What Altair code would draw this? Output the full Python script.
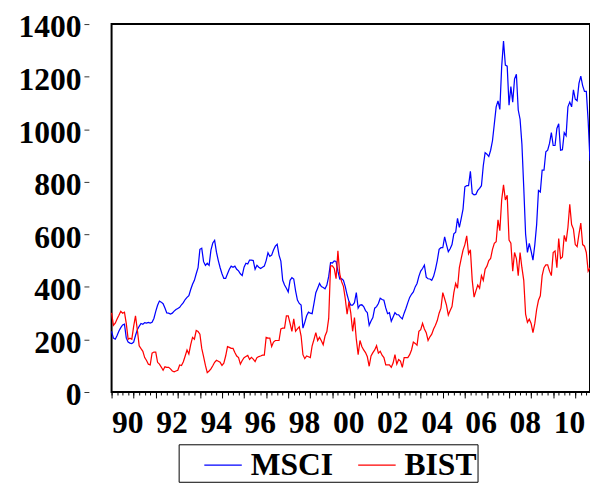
import altair as alt
import pandas as pd

start_year = 1990
series_names = ["MSCI", "BIST"]
series_colors = ["#0000ff", "#ff0000"]

msci = [
    231, 205, 201, 215, 232, 245, 255, 258, 205, 190, 186, 184,   # 1990
    190, 215, 237, 250, 261, 258, 264, 262, 265, 262, 265, 280,   # 1991
    307, 330, 346, 342, 336, 320, 301, 300, 297, 300, 308, 314,   # 1992
    318, 322, 332, 340, 352, 360, 367, 390, 410, 425, 450, 473,   # 1993
    543, 547, 496, 482, 490, 482, 540, 567, 577, 532, 500, 473,   # 1994
    450, 432, 432, 450, 467, 479, 475, 479, 467, 461, 450, 443,   # 1995
    475, 490, 487, 502, 502, 500, 467, 482, 475, 470, 475, 479,   # 1996
    500, 530, 516, 521, 540, 555, 562, 521, 498, 425, 407, 395,   # 1997
    381, 425, 435, 430, 385, 350, 337, 331, 243, 265, 290, 304,   # 1998
    300, 298, 337, 378, 395, 413, 401, 398, 393, 407, 440, 492,   # 1999
    491, 499, 497, 460, 430, 431, 425, 401, 370, 345, 331, 331,   # 2000
    340, 378, 319, 331, 332, 325, 310, 302, 254, 270, 283, 319,   # 2001
    325, 337, 357, 352, 349, 320, 298, 302, 269, 285, 302, 294,   # 2002
    294, 285, 278, 300, 319, 340, 360, 372, 381, 400, 413, 440,   # 2003
    460, 470, 483, 437, 431, 430, 425, 440, 467, 500, 543, 549,   # 2004
    549, 590, 561, 534, 545, 561, 602, 608, 661, 626, 660, 696,   # 2005
    781, 785, 785, 840, 756, 750, 752, 767, 775, 785, 861, 911,   # 2006
    905, 896, 920, 956, 1020, 1085, 1108, 1075, 1238, 1335, 1244, 1240,  # 2007
    1091, 1162, 1103, 1191, 1209, 1073, 1038, 943, 778, 601, 531, 566,   # 2008
    536, 502, 560, 637, 767, 761, 844, 844, 914, 920, 946, 987,   # 2009
    938, 938, 1003, 1021, 920, 922, 987, 975, 1085, 1103, 1085, 1150,    # 2010
    1114, 1108, 1174, 1202, 1166, 1144, 1144, 1032, 880,                 # 2011
]

bist = [
    301, 254, 262, 278, 292, 307, 300, 304, 260, 201, 205, 201,   # 1990
    250, 290, 237, 176, 165, 155, 131, 120, 106, 103, 148, 152,   # 1991
    152, 113, 106, 95, 83, 96, 94, 94, 88, 80, 77, 80,            # 1992
    83, 103, 101, 115, 137, 160, 145, 180, 208, 201, 234, 230,    # 1993
    220, 166, 135, 101, 74, 80, 88, 100, 113, 121, 117, 113,      # 1994
    101, 110, 137, 173, 170, 166, 166, 150, 137, 131, 106, 120,   # 1995
    131, 135, 139, 124, 132, 125, 116, 131, 135, 137, 140, 140,   # 1996
    208, 205, 205, 173, 190, 196, 196, 196, 240, 243, 243, 290,   # 1997
    290, 261, 231, 278, 231, 240, 248, 213, 142, 127, 137, 134,   # 1998
    131, 176, 200, 226, 196, 208, 195, 180, 213, 230, 280, 480,   # 1999
    480, 470, 431, 537, 449, 420, 402, 355, 296, 343, 300, 231,   # 2000
    283, 201, 142, 196, 173, 160, 150, 134, 98, 137, 150, 160,    # 2001
    176, 148, 155, 140, 131, 103, 103, 103, 94, 110, 142, 106,    # 2002
    124, 118, 94, 131, 131, 131, 142, 160, 190, 185, 178, 231,    # 2003
    237, 261, 240, 226, 196, 210, 220, 240, 254, 272, 300, 319,   # 2004
    378, 355, 331, 293, 310, 325, 378, 413, 395, 473, 508, 540,   # 2005
    561, 594, 526, 541, 425, 361, 385, 407, 395, 443, 425, 467,   # 2006
    479, 500, 508, 543, 566, 572, 655, 614, 731, 788, 731, 749,   # 2007
    578, 566, 460, 531, 508, 443, 531, 473, 425, 296, 265, 277,   # 2008
    261, 226, 261, 314, 349, 366, 443, 473, 484, 484, 460, 443,   # 2009
    531, 537, 473, 584, 508, 514, 596, 572, 626, 714, 637, 620,   # 2010
    561, 553, 601, 643, 561, 555, 531, 460, 473,                  # 2011
]

year_ticks = list(range(1990, 2012))
quarter_ticks = [1990 + q / 4 for q in range(0, 87)]
y_ticks = list(range(0, 1401, 200))

rows = []
for name, vals in zip(series_names, [msci, bist]):
    for i, v in enumerate(vals):
        rows.append({"t": start_year + i / 12, "v": v, "series": name})
df = pd.DataFrame(rows)

n = len(msci)
x_domain = [start_year, start_year + (n - 1) / 12]

FONT = "Liberation Serif"

base = alt.Chart(df)

lines = base.mark_line(strokeWidth=1.25).encode(
    x=alt.X(
        "t:Q",
        scale=alt.Scale(domain=x_domain, nice=False, zero=False),
        axis=alt.Axis(
            values=year_ticks, tickSize=6, tickWidth=1, tickColor="black",
            labelExpr="datum.value % 2 == 0 ? slice(toString(datum.value), 2) : ''",
            labelAlign="left", labelBaseline="top", labelPadding=10,
            labelOverlap=False, labelBound=False, labelFlush=False,
            domain=False, grid=False, title=None, orient="bottom",
        ),
    ),
    y=alt.Y(
        "v:Q",
        scale=alt.Scale(domain=[0, 1400], nice=False, zero=True),
        axis=alt.Axis(
            values=y_ticks, format="d", offset=23, tickSize=5, tickColor="#333333",
            labelPadding=3, labelOffset=3, domain=False, grid=False, title=None,
        ),
    ),
    color=alt.Color(
        "series:N",
        scale=alt.Scale(domain=series_names, range=series_colors),
        legend=alt.Legend(
            title=None, orient="none", legendX=68, legendY=426,
            direction="horizontal", symbolType="stroke", symbolSize=1444,
            symbolStrokeWidth=1.3, labelFont=FONT, labelFontSize=32,
            labelFontWeight="bold", labelColor="black",
            labelExpr="datum.label == 'BIST' ? datum.label + '\u00a0\u00a0\u00a0\u00a0' : datum.label",
            symbolOffset=24, labelOffset=8, columnPadding=-31, padding=1,
            strokeColor="black", fillColor="white",
        ),
    ),
)

minor = base.mark_line(opacity=0).encode(
    x=alt.X(
        "t:Q",
        axis=alt.Axis(
            values=quarter_ticks, tickSize=3, tickWidth=1, tickColor="black",
            labels=False, domain=False, grid=False, title=None, orient="bottom",
        ),
    ),
    y=alt.Y("v:Q", axis=None),
    detail="series:N",
)

chart = (
    alt.layer(lines, minor)
    .resolve_axis(x="independent", y="independent")
    .properties(
        width=485, height=373,
        autosize=alt.AutoSizeParams(type="none"),
        padding={"left": 105, "top": 13, "right": 0, "bottom": 94},
    )
    .configure_view(stroke="black", strokeWidth=2)
    .configure_axis(
        labelFont=FONT, labelFontSize=32, labelFontWeight="bold", labelColor="black",
    )
)

chart.save("out.html", embed_options={"renderer": "svg", "actions": False})
